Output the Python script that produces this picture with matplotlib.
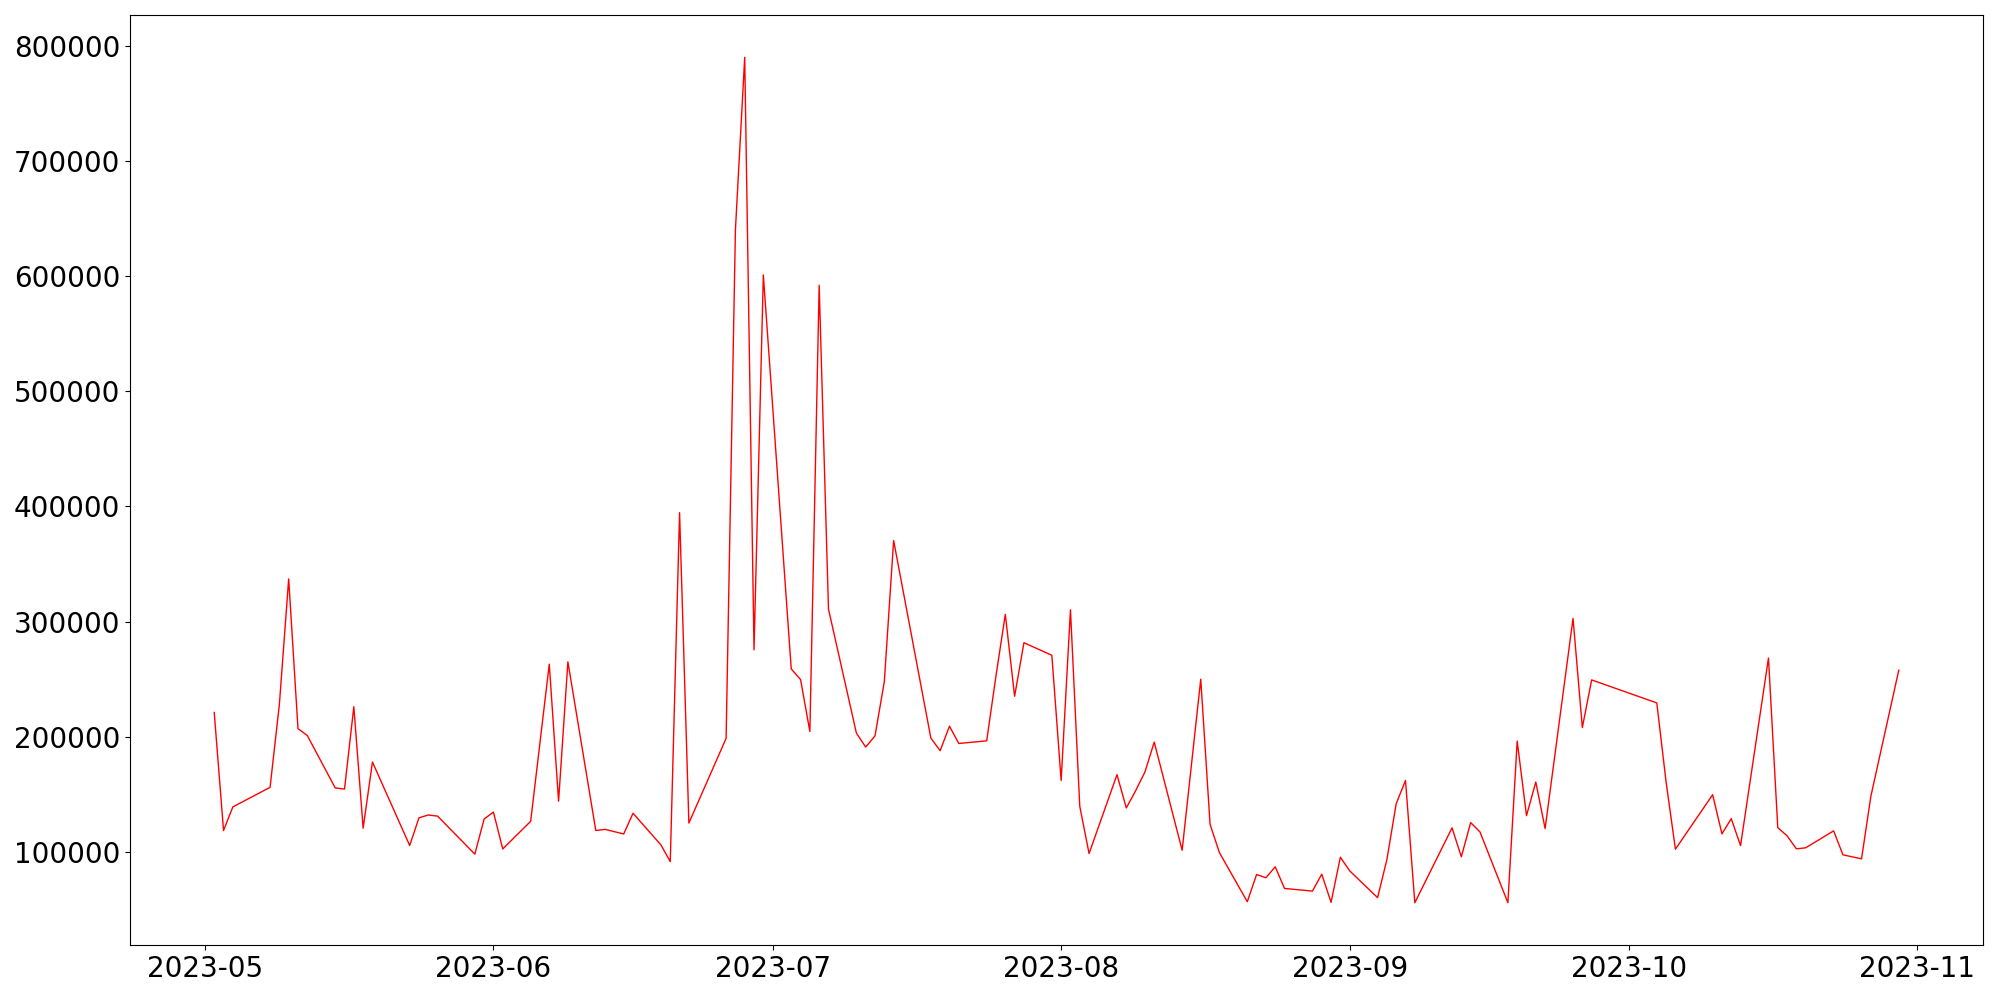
import pandas as pd
import matplotlib.pyplot as plt
import matplotlib.dates as mdates

# daily values
dates = ['2023-05-02', '2023-05-03', '2023-05-04', '2023-05-08', '2023-05-09',
         '2023-05-10', '2023-05-11', '2023-05-12', '2023-05-15', '2023-05-16',
         '2023-05-17', '2023-05-18', '2023-05-19', '2023-05-23', '2023-05-24',
         '2023-05-25', '2023-05-26', '2023-05-30', '2023-05-31', '2023-06-01',
         '2023-06-02', '2023-06-05', '2023-06-07', '2023-06-08', '2023-06-09',
         '2023-06-12', '2023-06-13', '2023-06-15', '2023-06-16', '2023-06-19',
         '2023-06-20', '2023-06-21', '2023-06-22', '2023-06-26', '2023-06-27',
         '2023-06-28', '2023-06-29', '2023-06-30', '2023-07-03', '2023-07-04',
         '2023-07-05', '2023-07-06', '2023-07-07', '2023-07-10', '2023-07-11',
         '2023-07-12', '2023-07-13', '2023-07-14', '2023-07-18', '2023-07-19',
         '2023-07-20', '2023-07-21', '2023-07-24', '2023-07-25', '2023-07-26',
         '2023-07-27', '2023-07-28', '2023-07-31', '2023-08-01', '2023-08-02',
         '2023-08-03', '2023-08-04', '2023-08-07', '2023-08-08', '2023-08-09',
         '2023-08-10', '2023-08-11', '2023-08-14', '2023-08-16', '2023-08-17',
         '2023-08-18', '2023-08-21', '2023-08-22', '2023-08-23', '2023-08-24',
         '2023-08-25', '2023-08-28', '2023-08-29', '2023-08-30', '2023-08-31',
         '2023-09-01', '2023-09-04', '2023-09-05', '2023-09-06', '2023-09-07',
         '2023-09-08', '2023-09-12', '2023-09-13', '2023-09-14', '2023-09-15',
         '2023-09-18', '2023-09-19', '2023-09-20', '2023-09-21', '2023-09-22',
         '2023-09-25', '2023-09-26', '2023-09-27', '2023-10-04', '2023-10-05',
         '2023-10-06', '2023-10-10', '2023-10-11', '2023-10-12', '2023-10-13',
         '2023-10-16', '2023-10-17', '2023-10-18', '2023-10-19', '2023-10-20',
         '2023-10-23', '2023-10-24', '2023-10-26', '2023-10-27', '2023-10-30']

values = [221000, 118500, 139000, 156000, 228000,
          337000, 207000, 201000, 155500, 154500,
          226000, 120500, 178000, 105500, 129500,
          132000, 131000, 98000, 128500, 134500,
          102500, 126500, 263000, 144000, 265000,
          118500, 119500, 115500, 133500, 106000,
          91500, 394500, 125000, 198500, 640000,
          790000, 275500, 601000, 258800, 249600,
          204500, 592000, 310800, 203100, 191000,
          200700, 247800, 370300, 198800, 187800,
          209100, 194100, 196400, 253000, 306200,
          235100, 281600, 270700, 162000, 310200,
          139500, 98500, 167000, 138100, 153000,
          169300, 195300, 101400, 249900, 123900,
          99400, 56700, 80300, 77500, 87000,
          68200, 65900, 80600, 56100, 95300,
          83500, 60200, 93300, 141800, 162000,
          55800, 120800, 95700, 125400, 117300,
          55800, 196200, 131400, 160600, 120200,
          302700, 207900, 249300, 229300, 160600,
          102300, 149600, 115600, 128800, 105400,
          268300, 121000, 113900, 102600, 103500,
          118200, 97400, 93900, 148200, 257700]

dates = pd.to_datetime(dates)

fig, ax = plt.subplots(figsize=(20, 10), dpi=100)
ax.plot(dates, values, color='red', linewidth=1)

ax.xaxis.set_major_locator(mdates.MonthLocator())
ax.xaxis.set_major_formatter(mdates.DateFormatter('%Y-%m'))
ax.tick_params(axis='both', labelsize=20)

plt.subplots_adjust(left=0.065, right=0.9915, top=0.985, bottom=0.055)
plt.savefig('out.png')
